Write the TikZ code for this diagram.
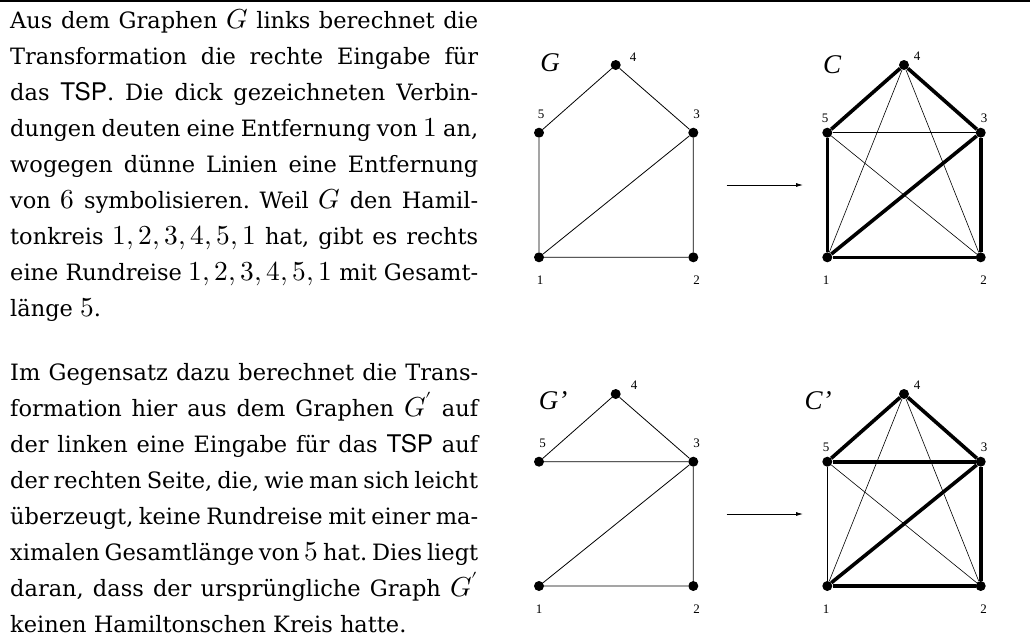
\documentclass[tikz,border=0pt]{standalone}
\usepackage{fontspec}
\usepackage{unicode-math}
\usetikzlibrary{arrows.meta}
\setmainfont{DejaVu Serif}
\setsansfont{TeX Gyre Heros}[Scale=1.08]
\setmathfont{Latin Modern Math}[Scale=1.22]
\newfontfamily\tmsfont{Liberation Serif}
\newcommand{\jline}[1]{\makebox[468pt][s]{#1}}
\begin{document}
\begin{tikzpicture}[x=1pt,y=-1pt,
  txt/.style={anchor=base west,inner sep=0pt,font=\fontsize{22.5}{36}\selectfont\frenchspacing},
  vtx/.style={circle,fill=black,inner sep=0pt,minimum size=10pt},
  lbl/.style={font=\tmsfont\fontsize{13}{13}\selectfont,inner sep=0pt},
  gname/.style={font=\tmsfont\itshape\fontsize{27}{27}\selectfont,inner sep=0pt},
  ethin/.style={line width=0.8pt},
  ecthin/.style={line width=0.6pt},
  ethick/.style={line width=3.6pt},
  arr/.style={line width=0.8pt,-{Latex[length=7pt,width=4pt]}}]
\useasboundingbox (0,0) rectangle (1030,637);
\draw[line width=1.5pt] (0,1) -- (1030,1);
% paragraph 1
\node[txt] (t1) at (10,28) {\jline{Aus dem Graphen $G$ links berechnet die}};
\node[txt] (t2) at (10,64) {\jline{Transformation die rechte Eingabe für}};
\node[txt] (t3) at (10,100) {\jline{das \textsf{TSP}. Die dick gezeichneten Verbin-}};
\node[txt] (t4) at (10,136) {\jline{dungen deuten eine Entfernung von $1$ an,}};
\node[txt] (t5) at (10,172) {\jline{wogegen dünne Linien eine Entfernung}};
\node[txt] (t6) at (10,208) {\jline{von $6$ symbolisieren. Weil $G$ den Hamil-}};
\node[txt] (t7) at (10,244) {\jline{tonkreis $1,2,3,4,5,1$ hat, gibt es rechts}};
\node[txt] (t8) at (10,280) {\jline{eine Rundreise $1,2,3,4,5,1$ mit Gesamt-}};
\node[txt] (t9) at (10,316) {länge $5$.};
% paragraph 2
\node[txt] (u1) at (10,380) {\jline{Im Gegensatz dazu berechnet die Trans-}};
\node[txt] (u2) at (10,416) {\jline{formation hier aus dem Graphen $G'$ auf}};
\node[txt] (u3) at (10,452) {\jline{der linken eine Eingabe für das \textsf{TSP} auf}};
\node[txt] (u4) at (10,488) {\jline{der rechten Seite, die, wie man sich leicht}};
\node[txt] (u5) at (10,524) {\jline{überzeugt, keine Rundreise mit einer ma-}};
\node[txt] (u6) at (10,560) {\jline{ximalen Gesamtlänge von $5$ hat. Dies liegt}};
\node[txt] (u7) at (10,596) {\jline{daran, dass der ursprüngliche Graph $G'$}};
\node[txt] (u8) at (10,632) {keinen Hamiltonschen Kreis hatte.};
% ---------- G ----------
\node[vtx] (g1) at (539,257.3) {};
\node[vtx] (g2) at (693.3,257.3) {};
\node[vtx] (g3) at (693.3,132.7) {};
\node[vtx] (g4) at (615.7,65) {};
\node[vtx] (g5) at (539,132.7) {};
\node[gname] (gn) at (550,63) {G};
\node[lbl] (gl1) at (540,280.5) {1};
\node[lbl] (gl2) at (696.5,280.5) {2};
\node[lbl] (gl3) at (696.5,114) {3};
\node[lbl] (gl4) at (633,57) {4};
\node[lbl] (gl5) at (541,114) {5};
\draw[ethin] (g1) -- (g2) -- (g3) -- (g4) -- (g5) -- (g1);
\draw[ethin] (g1) -- (g3);
% ---------- C ----------
\node[vtx] (c1) at (827.3,257.3) {};
\node[vtx] (c2) at (980.7,257.3) {};
\node[vtx] (c3) at (980.7,132.7) {};
\node[vtx] (c4) at (904,65) {};
\node[vtx] (c5) at (827.3,132.7) {};
\node[gname] (cn) at (832,65) {C};
\node[lbl] (cl1) at (826,280.5) {1};
\node[lbl] (cl2) at (983.5,280.5) {2};
\node[lbl] (cl3) at (984,118) {3};
\node[lbl] (cl4) at (917,56) {4};
\node[lbl] (cl5) at (825,118) {5};
\draw[ecthin] (c5) -- (c3);
\draw[ecthin] (c5) -- (c2);
\draw[ecthin] (c1) -- (c4);
\draw[ecthin] (c4) -- (c2);
\draw[ethick] (c1) -- (c2);
\draw[ethick] (c2) -- (c3);
\draw[ethick] (c3) -- (c4);
\draw[ethick] (c4) -- (c5);
\draw[ethick] (c5) -- (c1);
\draw[ethick] (c1) -- (c3);
\coordinate (a1s) at (726.7,185);
\coordinate (a1e) at (803,185);
\draw[arr] (a1s) -- (a1e);
% ---------- G' ----------
\node[vtx] (h1) at (539,586) {};
\node[vtx] (h2) at (693.3,586) {};
\node[vtx] (h3) at (693.3,461.7) {};
\node[vtx] (h4) at (615.7,394) {};
\node[vtx] (h5) at (539,461.7) {};
\node[gname] (hn) at (553,401) {G’};
\node[lbl] (hl1) at (539,609.5) {1};
\node[lbl] (hl2) at (696.5,609.5) {2};
\node[lbl] (hl3) at (696.5,443) {3};
\node[lbl] (hl4) at (634,385) {4};
\node[lbl] (hl5) at (542.5,443) {5};
\draw[ethin] (h1) -- (h2) -- (h3) -- (h4) -- (h5) -- (h3);
\draw[ethin] (h1) -- (h3);
% ---------- C' ----------
\node[vtx] (d1) at (827.3,586) {};
\node[vtx] (d2) at (980.7,586) {};
\node[vtx] (d3) at (980.7,461.7) {};
\node[vtx] (d4) at (904,394) {};
\node[vtx] (d5) at (827.3,461.7) {};
\node[gname] (dn) at (818,401) {C’};
\node[lbl] (dl1) at (826,609.5) {1};
\node[lbl] (dl2) at (983.5,609.5) {2};
\node[lbl] (dl3) at (984,447) {3};
\node[lbl] (dl4) at (917,385) {4};
\node[lbl] (dl5) at (826,447) {5};
\draw[ecthin] (d5) -- (d1);
\draw[ecthin] (d5) -- (d2);
\draw[ecthin] (d1) -- (d4);
\draw[ecthin] (d4) -- (d2);
\draw[ethick] (d1) -- (d2);
\draw[ethick] (d2) -- (d3);
\draw[ethick] (d3) -- (d4);
\draw[ethick] (d4) -- (d5);
\draw[ethick] (d5) -- (d3);
\draw[ethick] (d1) -- (d3);
\coordinate (a2s) at (726.7,514);
\coordinate (a2e) at (803,514);
\draw[arr] (a2s) -- (a2e);
\end{tikzpicture}
\end{document}
